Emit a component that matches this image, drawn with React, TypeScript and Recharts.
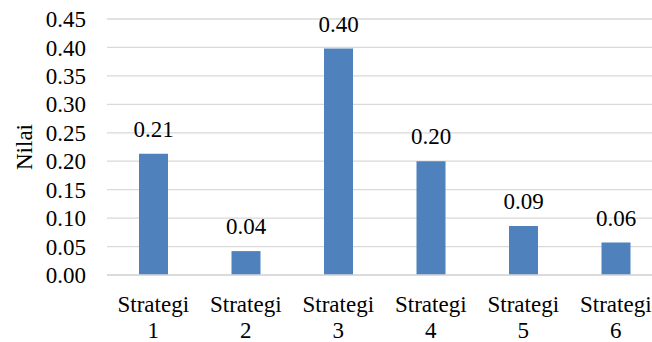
import React from "react";
import { BarChart, Bar, XAxis, YAxis, CartesianGrid, LabelList } from "recharts";

// Score per strategy
const categories = ["Strategi 1", "Strategi 2", "Strategi 3", "Strategi 4", "Strategi 5", "Strategi 6"];
const values = [0.213, 0.042, 0.398, 0.2, 0.086, 0.057];
const yTicks = [0, 0.05, 0.1, 0.15, 0.2, 0.25, 0.3, 0.35, 0.4, 0.45];

const data = categories.map((name, i) => ({ name, value: values[i] }));

const FONT = "Times New Roman, Tinos, Liberation Serif, DejaVu Serif, serif";
const FONT_SIZE = 23;

// two-line category label: "Strategi" on top, the number below
const CategoryTick = (props: any) => {
  const { x, y, payload } = props;
  const [word, num] = String(payload.value).split(" ");
  return (
    <g transform={`translate(${x},${y})`}>
      <text x={0} y={37} textAnchor="middle" fill="#000" style={{ fontFamily: FONT, fontSize: FONT_SIZE }}>
        {word}
      </text>
      <text x={0} y={63} textAnchor="middle" fill="#000" style={{ fontFamily: FONT, fontSize: FONT_SIZE }}>
        {num}
      </text>
    </g>
  );
};

export default function App() {
  return (
    <div
      style={{
        position: "absolute",
        left: 0,
        top: 0,
        width: 652,
        height: 342,
        overflow: "hidden",
        background: "#fff",
        fontFamily: FONT,
      }}
    >
      <BarChart
        width={662}
        height={342}
        data={data}
        margin={{ top: 19, right: 0, bottom: 0, left: 0 }}
        style={{ fontFamily: FONT }}
      >
        <CartesianGrid vertical={false} stroke="#d9d9d9" strokeWidth={1.3} />
        <XAxis
          dataKey="name"
          height={67}
          tickLine={false}
          tickSize={0}
          tickMargin={0}
          axisLine={{ stroke: "#d9d9d9", strokeWidth: 1.3 }}
          tick={<CategoryTick />}
          interval={0}
        />
        <YAxis
          width={107}
          domain={[0, 0.45]}
          ticks={yTicks}
          interval={0}
          axisLine={false}
          tickLine={false}
          tickSize={0}
          tickMargin={21}
          tickFormatter={(v: number) => v.toFixed(2)}
          tick={{ fill: "#000", fontFamily: FONT, fontSize: FONT_SIZE }}
          label={(props: any) => {
            const vb = props.viewBox || {};
            const cy = (vb.y ?? 19) + (vb.height ?? 256) / 2;
            return (
              <text
                transform={`translate(32,${cy}) rotate(-90)`}
                textAnchor="middle"
                fill="#000"
                style={{ fontFamily: FONT, fontSize: FONT_SIZE }}
              >
                Nilai
              </text>
            );
          }}
        />
        <Bar dataKey="value" fill="#4f81bd" barSize={29} isAnimationActive={false}>
          <LabelList
            dataKey="value"
            position="top"
            offset={17}
            formatter={(v: any) => Number(v).toFixed(2)}
            fill="#000"
            fontFamily={FONT}
            fontSize={FONT_SIZE}
          />
        </Bar>
      </BarChart>
    </div>
  );
}
